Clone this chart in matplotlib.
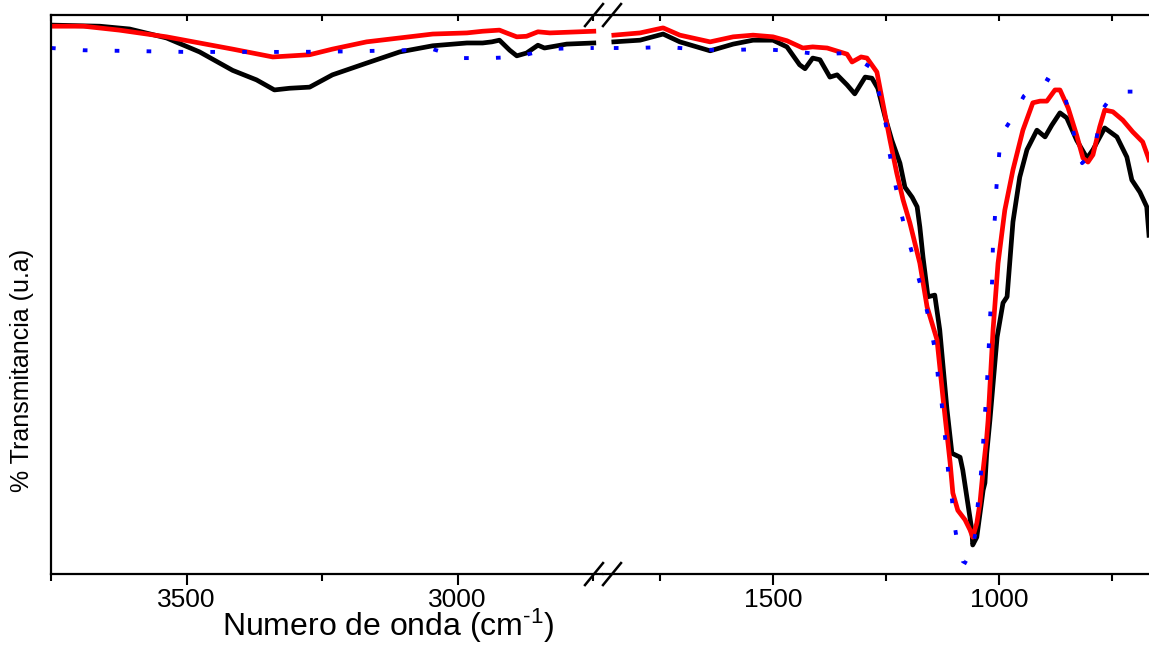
import matplotlib
matplotlib.use("Agg")
import matplotlib.pyplot as plt
import numpy as np
from matplotlib.ticker import MultipleLocator

plt.rcParams["font.family"] = ["Liberation Sans", "DejaVu Sans"]
plt.rcParams["mathtext.fontset"] = "custom"
plt.rcParams["mathtext.rm"] = "Liberation Sans"
plt.rcParams["mathtext.it"] = "Liberation Sans:italic"

# ------------------------------------------------------------------ #
# Espectros FTIR (numero de onda en cm-1, transmitancia en u.a.)
# ------------------------------------------------------------------ #
onda_negro = [3750, 3660, 3605, 3537, 3476, 3415, 3371, 3338, 3310, 3273,
              3231, 3168, 3107, 3046, 2983, 2954, 2937, 2923, 2904, 2891,
              2873, 2852, 2840, 2799, 2749,
              1852, 1794, 1743, 1706, 1639, 1588, 1544, 1500, 1469, 1441,
              1429, 1412, 1396, 1374, 1358, 1336, 1319, 1296, 1281, 1268,
              1252, 1237, 1219, 1208, 1192, 1181, 1175, 1168, 1157, 1142,
              1131, 1115, 1104, 1086, 1080, 1069, 1060, 1058, 1049, 1035,
              1031, 1027, 1020, 1004, 991, 982, 969, 954, 938, 916,
              898, 883, 865, 850, 828, 805, 792, 766, 739, 717,
              706, 688, 673, 668]
trans_negro = [98.2, 98.0, 97.5, 95.9, 93.4, 90.1, 88.4, 86.6, 86.9, 87.1,
               89.3, 91.4, 93.4, 94.5, 95.0, 95.0, 95.2, 95.5, 93.7, 92.7,
               93.2, 94.6, 94.1, 94.8, 95.0,
               95.2, 95.5, 96.6, 95.2, 93.6, 94.8, 95.5, 95.5, 94.3, 91.1,
               90.4, 92.3, 92.0, 88.9, 89.3, 87.5, 85.9, 88.9, 88.7, 86.9,
               81.8, 77.6, 73.5, 69.2, 67.4, 65.7, 62.1, 56.7, 49.6, 49.9,
               43.7, 29.5, 21.6, 20.9, 18.6, 12.7, 7.9, 5.2, 6.6, 15.0,
               16.3, 21.6, 27.5, 42.4, 48.5, 49.6, 63.0, 71.0, 75.9, 79.4,
               78.2, 80.3, 82.5, 81.6, 77.6, 74.4, 75.9, 79.8, 78.2, 74.6,
               70.5, 68.3, 65.7, 60.6]

onda_rojo = [3750, 3690, 3624, 3537, 3476, 3415, 3341, 3273, 3231, 3168,
             3107, 3046, 2983, 2954, 2923, 2910, 2891, 2873, 2852, 2830,
             2749,
             1852, 1794, 1743, 1706, 1639, 1588, 1544, 1500, 1469, 1434,
             1412, 1380, 1352, 1336, 1325, 1305, 1292, 1270, 1257, 1241,
             1226, 1212, 1197, 1175, 1159, 1137, 1124, 1108, 1102, 1091,
             1075, 1064, 1058, 1049, 1042, 1035, 1027, 1024, 1013, 1002,
             987, 969, 947, 925, 909, 894, 876, 865, 847, 828,
             814, 803, 792, 777, 766, 748, 726, 704, 682, 670,
             668]
trans_rojo = [98.0, 98.0, 97.3, 96.1, 95.0, 93.9, 92.5, 92.9, 93.9, 95.2,
              95.9, 96.6, 96.8, 97.1, 97.3, 96.8, 96.1, 96.2, 97.0, 96.8,
              97.1,
              96.4, 96.8, 97.7, 96.4, 95.2, 96.1, 96.4, 96.1, 95.4, 94.1,
              94.3, 94.1, 93.4, 93.0, 91.6, 92.5, 92.3, 89.8, 84.3, 77.6,
              71.7, 66.9, 62.8, 55.6, 47.8, 41.9, 31.7, 19.9, 14.5, 11.4,
              9.7, 7.9, 6.6, 9.1, 12.7, 18.6, 24.5, 27.5, 43.7, 55.6,
              65.1, 72.3, 79.4, 84.3, 84.6, 84.6, 86.6, 86.6, 83.4, 78.5,
              74.4, 73.7, 75.0, 80.0, 83.0, 82.7, 81.2, 79.1, 77.3, 74.6,
              74.1]

onda_azul = [3750, 3690, 3500, 3300, 3200, 3100, 3046, 2993, 2941, 2889,
             2834, 2780, 2749,
             1852, 1801, 1737, 1675, 1611, 1529, 1462, 1400, 1334, 1281,
             1268, 1257, 1248, 1243, 1235, 1226, 1217, 1206, 1192, 1181,
             1168, 1157, 1148, 1139, 1135, 1128, 1124, 1119, 1115, 1111,
             1104, 1100, 1093, 1080, 1069, 1058, 1049, 1047, 1042, 1038,
             1035, 1033, 1029, 1024, 1020, 1015, 1013, 1009, 1007, 1004,
             1000, 996, 969, 945, 898, 859, 847, 836, 830, 816,
             790, 781, 772, 743, 679, 668]
trans_azul = [94.1, 93.7, 93.4, 93.4, 93.5, 93.7, 93.9, 92.3, 92.3, 92.5,
              93.9, 94.1, 94.1,
              94.1, 94.1, 94.3, 93.9, 93.7, 93.9, 93.6, 93.0, 93.2, 90.5,
              86.9, 83.2, 79.4, 75.7, 72.1, 68.3, 64.8, 61.2, 57.4, 53.8,
              50.1, 46.3, 42.8, 39.0, 35.2, 31.7, 28.1, 24.3, 20.8, 17.0,
              13.4, 9.7, 6.1, 2.3, 1.8, 4.8, 8.6, 12.3, 15.9, 19.7,
              23.3, 27.0, 30.6, 37.9, 45.3, 52.6, 59.9, 63.7, 67.4, 71.0,
              74.6, 78.4, 81.8, 85.5, 88.7, 86.9, 83.2, 79.4, 77.1, 73.5,
              75.5, 79.3, 83.0, 86.3, 86.3, 86.3]

# eje x cortado: tramo alto y tramo bajo
rango_alto = (3750, 2732)
rango_bajo = (1876, 668)

fig = plt.figure(figsize=(11.49, 6.45), dpi=100)
base, alto = 0.110, 0.8667
ax1 = fig.add_axes([51 / 1149, base, (603 - 51) / 1149, alto])
ax2 = fig.add_axes([603 / 1149, base, (1149 - 603) / 1149, alto], sharey=ax1)

series = [
    (onda_negro, trans_negro, dict(color="black", lw=3.4, ls="-",
                                   solid_joinstyle="round")),
    (onda_rojo, trans_rojo, dict(color="#ff0000", lw=3.4, ls="-",
                                 solid_joinstyle="round")),
    (onda_azul, trans_azul, dict(color="#0000ff", lw=2.8, ls=(0, (1.2, 7.0)),
                                 dash_capstyle="butt")),
]

for ax, (a, b) in ((ax1, rango_alto), (ax2, rango_bajo)):
    for x, y, estilo in series:
        x = np.asarray(x)
        y = np.asarray(y)
        m = (x <= a) & (x >= b - 1)
        ax.plot(x[m], y[m], **estilo)
    ax.set_xlim(a, b)
    ax.xaxis.set_major_locator(MultipleLocator(500))
    ax.xaxis.set_minor_locator(MultipleLocator(250))
    ax.tick_params(axis="x", which="major", direction="out", length=8,
                   width=1.5, labelsize=19, pad=2, top=False)
    ax.tick_params(axis="x", which="minor", direction="out", length=5,
                   width=1.5, top=False)
    ax.tick_params(axis="y", left=False, labelleft=False)
    for lado in ("top", "bottom", "left", "right"):
        ax.spines[lado].set_linewidth(1.6)
    # marcas pequenas hacia dentro en el borde superior
    sec = ax.secondary_xaxis("top")
    sec.xaxis.set_major_locator(MultipleLocator(250))
    sec.tick_params(direction="in", length=4, width=1.5, labeltop=False)
    sec.spines["top"].set_visible(False)

ax1.spines["right"].set_visible(False)
ax2.spines["left"].set_visible(False)
ax2.spines["right"].set_visible(False)
ax1.set_ylim(0, 100)

# signo de corte "//" arriba y abajo
for yb in (base, base + alto):
    for dx in (-9, 9):
        x0 = (603 + dx - 9) / 1149
        x1 = (603 + dx + 9) / 1149
        fig.add_artist(plt.Line2D([x0, x1], [yb - 11 / 645, yb + 11 / 645],
                                  color="black", lw=1.8))

fig.text(22 / 1149, 1 - 370 / 645, "% Transmitancia (u.a)", rotation=90,
         ha="center", va="center", fontsize=18)
fig.text(388 / 1149, 1 - 636 / 645, r"Numero de onda (cm$^{\text{-}1}$)",
         ha="center", va="baseline", fontsize=23)

fig.savefig("out.png", dpi=100)
